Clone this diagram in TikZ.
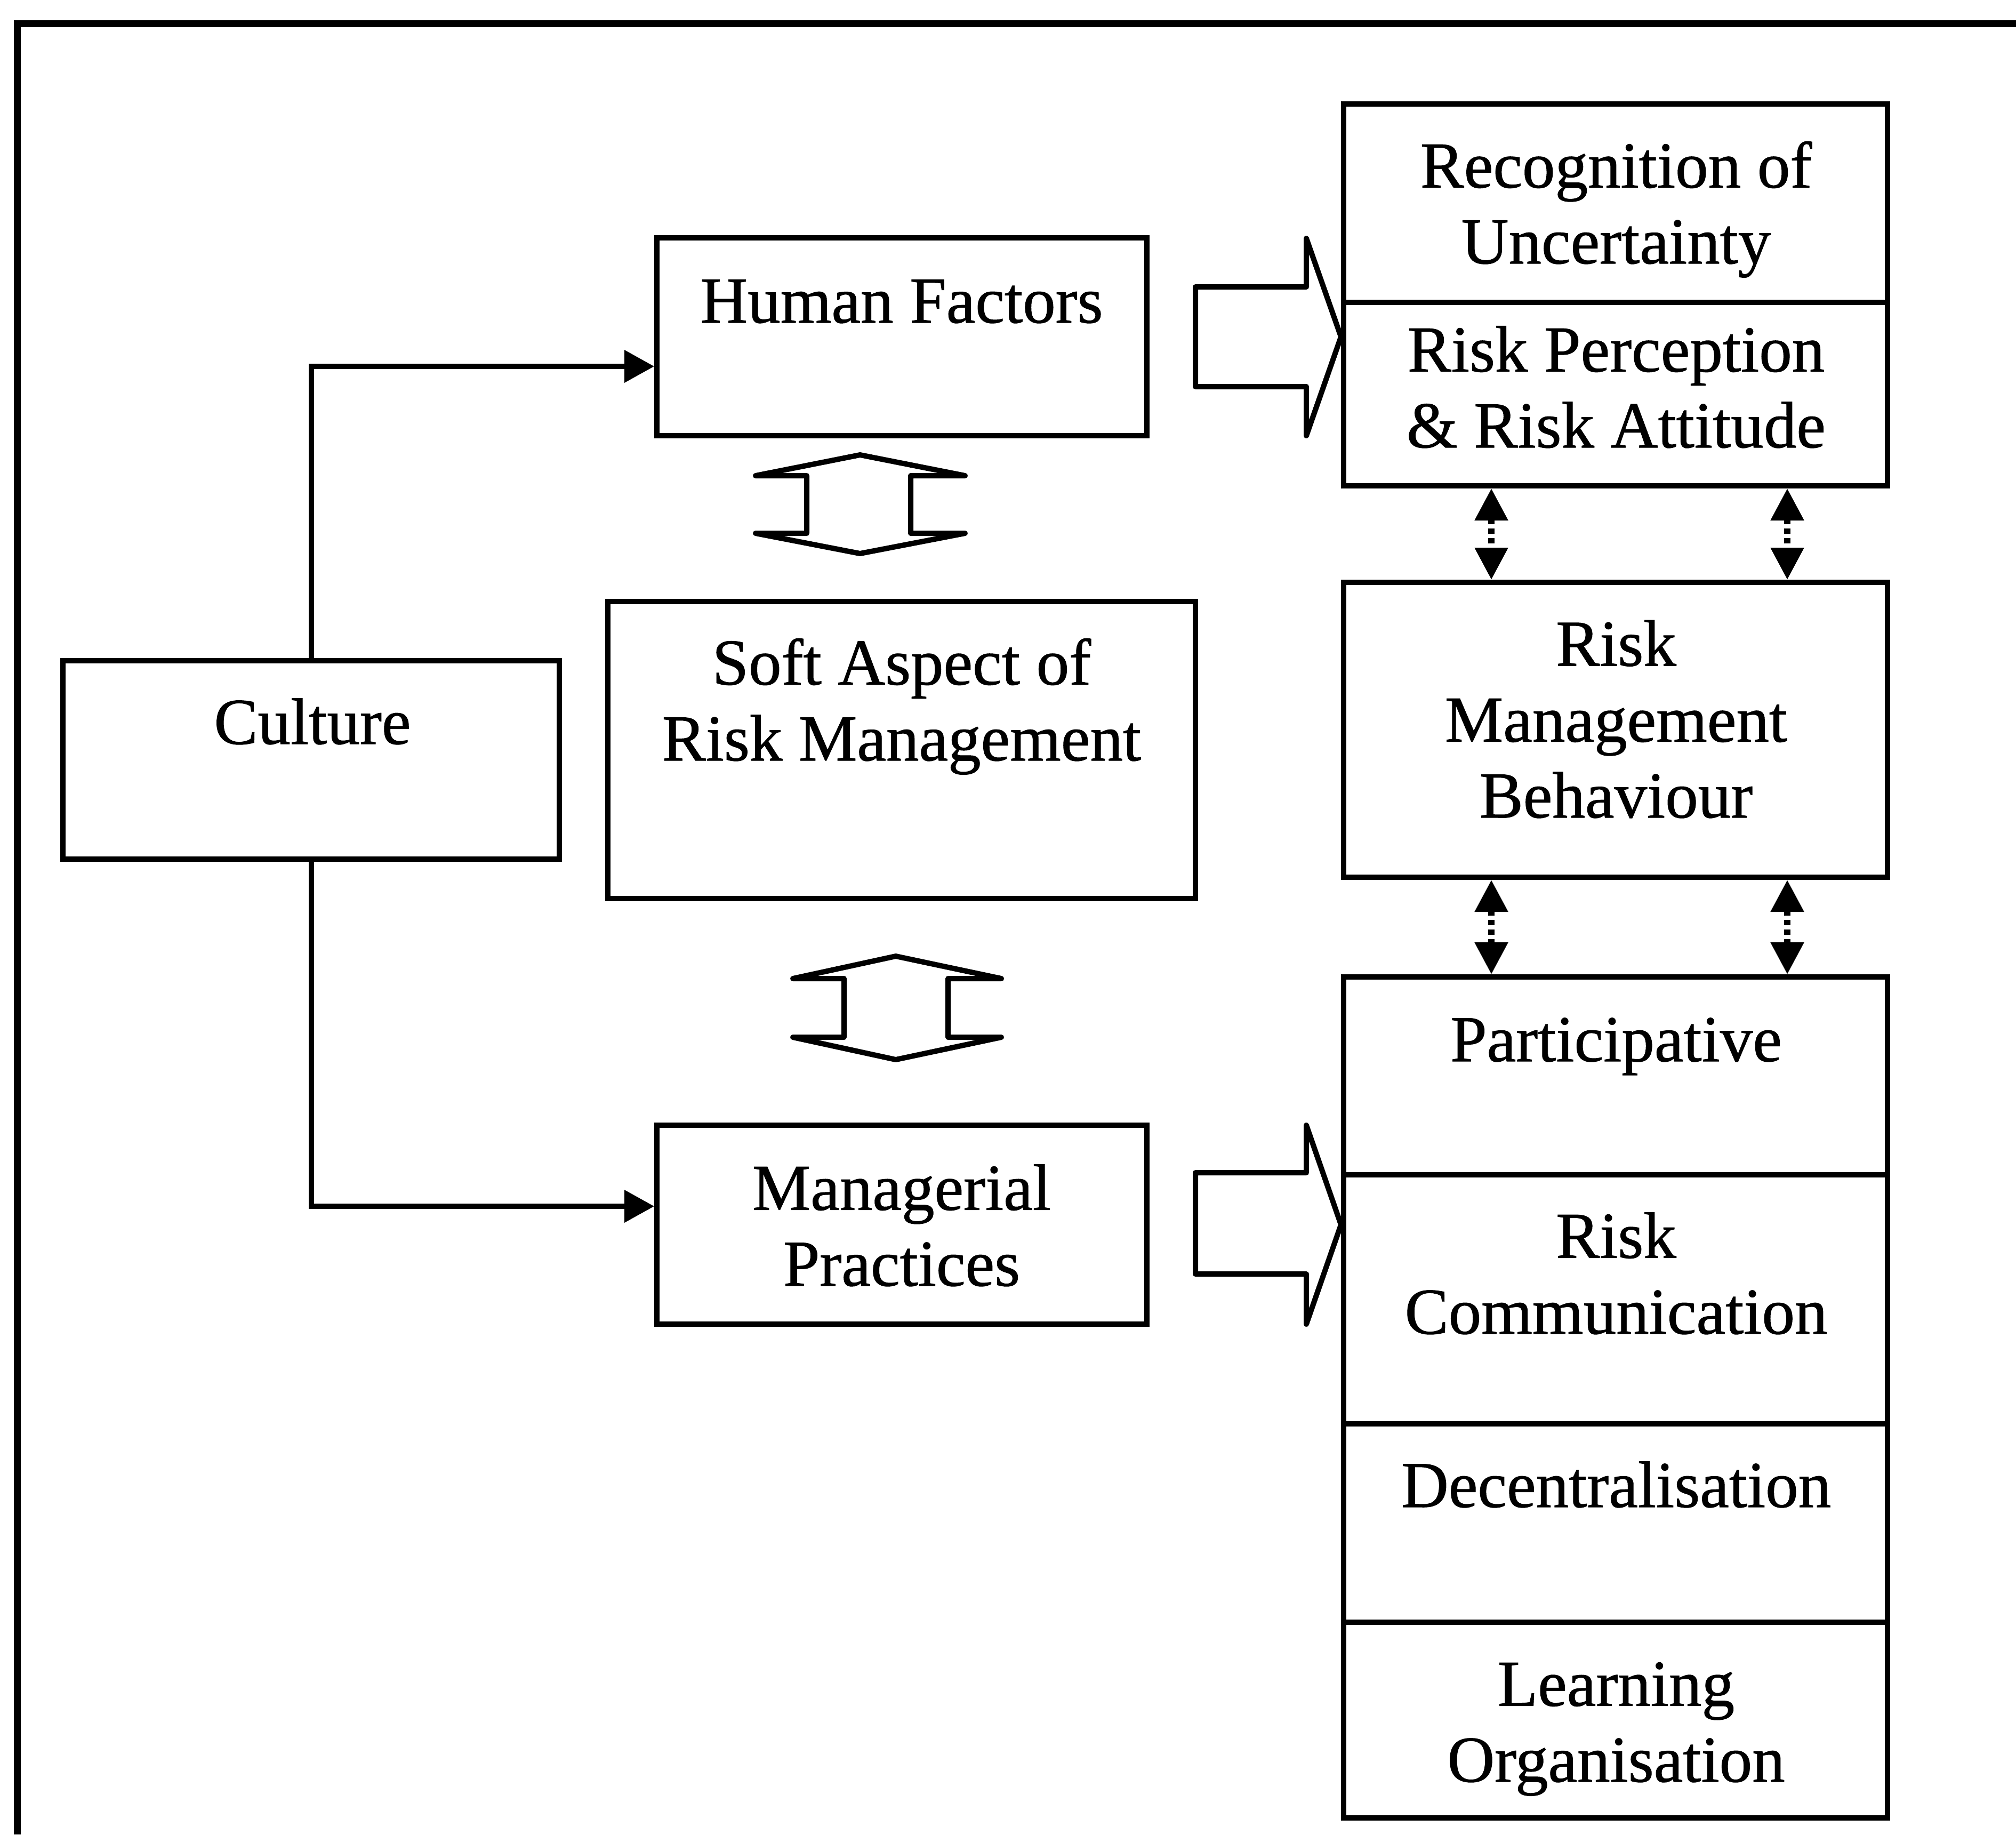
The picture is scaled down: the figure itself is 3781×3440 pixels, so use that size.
\documentclass[tikz,border=0pt]{standalone}
\usepackage{fontspec}
\setmainfont{Liberation Serif}
\newfontfamily\lblfont{Liberation Serif}[FakeBold=0.8]
\usetikzlibrary{arrows.meta,fit}
\begin{document}
\begin{tikzpicture}[x=0.1mm,y=-0.1mm,
  box/.style={draw, line width=1.0mm, inner sep=0pt},
  lbl/.style={font=\lblfont\fontsize{35pt}{40.5pt}\selectfont, align=center, anchor=base, inner sep=0pt},
  conn/.style={line width=1.0mm, -{Triangle[length=5.6mm,width=5.9mm]}},
  dotarr/.style={line width=1.2mm, dash pattern=on 1mm off 0.8mm,
    {Triangle[length=6mm,width=6mm]}-{Triangle[length=6mm,width=6mm]}},
  blockarr/.style={line width=1.0mm, line join=round},
  frameline/.style={line width=1.3mm}
]
\useasboundingbox (0,0) rectangle (3781,3440);
% outer frame (cropped)
\draw[frameline] (32,3440) -- (32,44) -- (3781,44);

% boxes
\node[box, fit={(118,1239) (1049,1611)}] (cul) {};
\node[box, fit={(1232,446) (2151,817)}] (hf) {};
\node[box, fit={(1140,1128) (2242,1685)}] (soft) {};
\node[box, fit={(1232,2110) (2151,2483)}] (mp) {};
\node[box, fit={(2520,195) (3540,567)}] (rec) {};
\node[box, fit={(2520,567) (3540,911)}] (rpa) {};
\node[box, fit={(2520,1092) (3540,1645)}] (rmb) {};
\node[box, fit={(2520,1832) (3540,2203)}] (par) {};
\node[box, fit={(2520,2203) (3540,2670)}] (rc) {};
\node[box, fit={(2520,2670) (3540,3042)}] (dec) {};
\node[box, fit={(2520,3042) (3540,3409)}] (lo) {};

% labels (anchor = baseline of the last line)
\node[lbl] (tcul) at (586,1395) {Culture};
\node[lbl] (thf) at (1691,605) {Human Factors};
\node[lbl] (tsoft) at (1691,1426) {Soft Aspect of\\Risk Management};
\node[lbl] (tmp) at (1691,2411) {Managerial\\Practices};
\node[lbl] (trec) at (3031,494) {Recognition of\\Uncertainty};
\node[lbl] (trpa) at (3031,839) {Risk Perception\\\& Risk Attitude};
\node[lbl] (trmb) at (3031,1533) {Risk\\Management\\Behaviour};
\node[lbl] (tpar) at (3031,1990) {Participative};
\node[lbl] (trc) at (3031,2501) {Risk\\Communication};
\node[lbl] (tdec) at (3031,2826) {Decentralisation};
\node[lbl] (tlo) at (3031,3341) {Learning\\Organisation};

% culture connectors
\draw[conn] (cul.north) |- ([yshift=-5.55mm]hf.west);
\draw[conn] (cul.south) |- ([yshift=3.45mm]mp.west);

% hollow double arrows between middle boxes
\draw[blockarr] (1613,853) -- (1810,892) -- (1708,892) -- (1708,1000) -- (1810,1000)
  -- (1613,1038) -- (1417,1000) -- (1513,1000) -- (1513,892) -- (1417,892) -- cycle;
\draw[blockarr] (1680,1793) -- (1878,1835) -- (1778,1835) -- (1778,1945) -- (1878,1945)
  -- (1680,1987) -- (1487,1945) -- (1583,1945) -- (1583,1835) -- (1487,1835) -- cycle;

% block arrows to the right column
\draw[blockarr] (2242,538) -- (2450,538) -- (2450,447) -- (hf.east -| rec.west)
  -- (2450,817) -- (2450,725) -- (2242,725) -- cycle;
\draw[blockarr] (2242,2199) -- (2450,2199) -- (2450,2110) -- (mp.east -| par.west)
  -- (2450,2483) -- (2450,2389) -- (2242,2389) -- cycle;

% dotted double arrows
\coordinate (c1) at (2797,0);
\coordinate (c2) at (3352,0);
\draw[dotarr] (c1 |- rpa.south) -- (c1 |- rmb.north);
\draw[dotarr] (c2 |- rpa.south) -- (c2 |- rmb.north);
\draw[dotarr] (c1 |- rmb.south) -- (c1 |- par.north);
\draw[dotarr] (c2 |- rmb.south) -- (c2 |- par.north);
\end{tikzpicture}
\end{document}
